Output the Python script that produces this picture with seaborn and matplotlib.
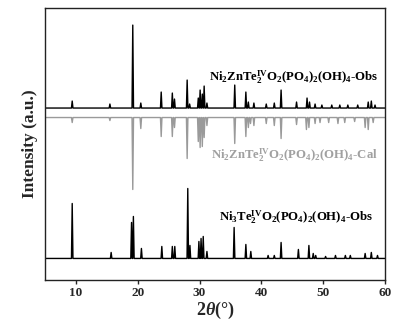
import numpy as np
import pandas as pd
import matplotlib
matplotlib.use('Agg')
import matplotlib.pyplot as plt
import seaborn as sns

# peak positions (2theta) and heights
obs1_pos = [9.4, 15.5, 19.2, 20.5, 23.8, 25.6, 25.95, 28.0, 28.4, 29.8, 30.1, 30.45, 30.75, 31.2,
            35.7, 37.5, 37.9, 38.8, 40.8, 42.1, 43.2, 45.7, 47.4, 47.8, 48.7, 49.8, 51.4, 52.7,
            54.0, 55.6, 57.3, 57.8, 58.4]
obs1_int = [7, 4, 83, 5, 16, 15, 9, 28, 4, 10, 18, 14, 22, 5,
            23, 16, 6, 5, 4, 5, 18, 6, 10, 6, 4, 3, 3, 3,
            3, 3, 6, 7, 3]

cal_pos = [9.4, 15.5, 19.2, 20.5, 23.8, 25.6, 25.95, 28.0, 29.8, 30.1, 30.45, 30.75, 31.2,
           35.7, 37.5, 37.9, 38.25, 38.8, 40.8, 42.1, 43.2, 45.7, 47.3, 47.7, 48.7, 49.5,
           50.9, 52.4, 53.5, 55.1, 56.8, 57.3, 58.1]
cal_int = [5, 3, 72, 11, 19, 19, 10, 41, 24, 30, 29, 20, 8,
           26, 19, 10, 6, 8, 6, 8, 21, 7, 12, 10, 6, 5,
           5, 6, 5, 4, 10, 12, 5]

obs2_pos = [9.4, 15.7, 19.0, 19.3, 20.6, 23.9, 25.6, 26.0, 28.1, 28.45, 29.9, 30.25, 30.6, 31.2,
            35.6, 37.5, 38.3, 41.1, 42.1, 43.2, 46.0, 47.7, 48.4, 48.8, 50.4, 52.0, 53.6, 54.4,
            56.8, 57.8, 58.8]
obs2_int = [55, 6, 36, 42, 10, 12, 12, 12, 70, 13, 17, 20, 22, 7,
            31, 14, 7, 3, 3, 16, 9, 13, 5, 3, 2, 3, 3, 3,
            5, 6, 3]

labels = ['Ni$_2$ZnTe$_2^{\\rm IV}$O$_2$(PO$_4$)$_2$(OH)$_4$-Obs',
          'Ni$_2$ZnTe$_2^{\\rm IV}$O$_2$(PO$_4$)$_2$(OH)$_4$-Cal',
          'Ni$_3$Te$_2^{\\rm IV}$O$_2$(PO$_4$)$_2$(OH)$_4$-Obs']

base1, base_cal, base2 = 172, 162.5, 21.5
half_w = 0.12


def profile(pos, inten, base, sign=1):
    xs, ys = [5.0], [base]
    for p, h in zip(pos, inten):
        xs += [p - half_w, p, p + half_w]
        ys += [base, base + sign * h, base]
    xs.append(60.0)
    ys.append(base)
    return pd.DataFrame({'two_theta': xs, 'intensity': ys})


sns.set_theme(style='ticks')
plt.rcParams['font.family'] = ['Liberation Serif', 'DejaVu Serif']
plt.rcParams['font.weight'] = 'bold'
plt.rcParams['mathtext.fontset'] = 'custom'
plt.rcParams['mathtext.rm'] = 'Liberation Serif:bold'
plt.rcParams['mathtext.bf'] = 'Liberation Serif:bold'
plt.rcParams['mathtext.it'] = 'Liberation Serif:italic:bold'

fig = plt.figure(figsize=(4.13, 3.24), dpi=100)
ax = fig.add_axes([0.109, 0.136, 0.823, 0.839])

sns.lineplot(data=profile(obs1_pos, obs1_int, base1), x='two_theta', y='intensity',
             estimator=None, sort=False, color='black', lw=1.0, ax=ax)
sns.lineplot(data=profile(cal_pos, cal_int, base_cal, -1), x='two_theta', y='intensity',
             estimator=None, sort=False, color='#9a9a9a', lw=1.0, ax=ax)
sns.lineplot(data=profile(obs2_pos, obs2_int, base2), x='two_theta', y='intensity',
             estimator=None, sort=False, color='black', lw=1.0, ax=ax)

ax.text(45.3, 203, labels[0], ha='center', va='center', fontsize=9.2, fontweight='bold', color='black')
ax.text(45.3, 125, labels[1], ha='center', va='center', fontsize=9.2, fontweight='bold', color='#a0a0a0')
ax.text(45.6, 63, labels[2], ha='center', va='center', fontsize=9.2, fontweight='bold', color='black')

ax.set_xlim(5, 60)
ax.set_ylim(0, 272)
ax.set_xticks([10, 20, 30, 40, 50, 60])
ax.set_yticks([])
ax.tick_params(axis='x', direction='out', length=3, width=1, labelsize=9.5, pad=2)
for lab in ax.get_xticklabels():
    lab.set_fontweight('bold')
for s in ax.spines.values():
    s.set_visible(True)
    s.set_linewidth(1.0)
    s.set_color('#222222')

ax.set_xlabel('2$\\theta$(°)', fontsize=13, fontweight='bold', labelpad=1)
ax.set_ylabel('Intensity (a.u.)', fontsize=12.5, fontweight='bold', labelpad=5)

fig.savefig('out.png', dpi=100)
